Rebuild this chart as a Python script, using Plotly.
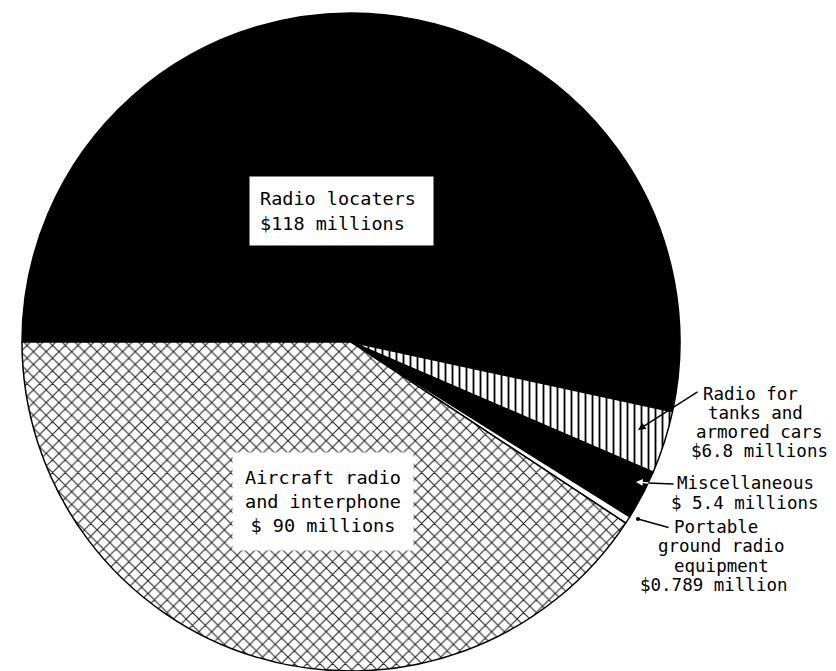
import plotly.graph_objects as go

# ---- data ----
categories = [
    "Radio locaters",
    "Radio for tanks and armored cars",
    "Miscellaneous",
    "Portable ground radio equipment",
    "Aircraft radio and interphone",
]
values = [118, 6.8, 5.4, 0.789, 90]  # millions of dollars

label_locaters = ["Radio locaters", "$118 millions"]
label_aircraft = ["Aircraft radio", "and interphone", "$ 90 millions"]
label_tanks = ["Radio for", "tanks and", "armored cars", "$6.8 millions"]
label_misc = ["Miscellaneous", "$ 5.4 millions"]
label_portable = ["Portable", "ground radio", "equipment", "$0.789 million"]

# ---- layout helpers ----
# the page body has an 8px margin, so the figure is sized to fill the rest
OFF = 8
W, H = 836 - OFF, 671 - OFF
FONT = "DejaVu Sans Mono"


def px(x):
    return (x - OFF) / W


def py(y):
    return 1 - (y - OFF) / H


cx, cy, r = 351, 342, 329

fig = go.Figure()
fig.add_trace(
    go.Pie(
        labels=categories,
        values=values,
        sort=False,
        direction="clockwise",
        rotation=270,
        textinfo="none",
        showlegend=False,
        domain=dict(x=[px(cx - r), px(cx + r)],
                    y=[max(0, py(cy + r)), min(1, py(cy - r))]),
        marker=dict(
            colors=["black", "white", "black", "white", "white"],
            line=dict(color="black", width=1.5),
            pattern=dict(
                shape=["", "|", "", "", "x"],
                fgcolor=["black", "black", "black", "black", "#222222"],
                bgcolor=["black", "white", "black", "white", "white"],
                size=[8, 7, 8, 8, 9],
                solidity=[0.3, 0.26, 0.3, 0.3, 0.22],
                fillmode="replace",
            ),
        ),
    )
)

annotations = []

# boxed labels inside the pie
annotations.append(
    dict(
        x=px(341), y=py(211), xref="paper", yref="paper",
        text="<br>".join(label_locaters), showarrow=False,
        font=dict(family=FONT, size=18.5, color="black"),
        align="left", bgcolor="white", borderpad=10,
        width=163, height=48, xanchor="center", yanchor="middle",
    )
)
annotations.append(
    dict(
        x=px(323), y=py(501), xref="paper", yref="paper",
        text="<br>".join(label_aircraft), showarrow=False,
        font=dict(family=FONT, size=18.5, color="black"),
        align="center", bgcolor="white", borderpad=10,
        width=160, height=77, xanchor="center", yanchor="middle",
    )
)

# outside labels, one line each
line_pos = {
    "tanks": [(750, 394), (755, 413), (759, 432), (759, 451)],
    "misc": [(745, 483), (745, 503)],
    "portable": [(716, 527), (721, 546), (721, 566), (714, 585)],
}
for lines, key in [(label_tanks, "tanks"), (label_misc, "misc"), (label_portable, "portable")]:
    for t, (x, y) in zip(lines, line_pos[key]):
        annotations.append(
            dict(
                x=px(x), y=py(y), xref="paper", yref="paper", text=t,
                showarrow=False, font=dict(family=FONT, size=17.5, color="black"),
                xanchor="center", yanchor="middle",
            )
        )


# leader lines / arrows
def arrow(head, tail, color="black", head_style=2, size=1.0, width=1.5):
    return dict(
        x=px(head[0]), y=py(head[1]), xref="paper", yref="paper",
        ax=tail[0] - head[0], ay=tail[1] - head[1],
        text="", showarrow=True, arrowhead=head_style, arrowsize=size,
        arrowwidth=width, arrowcolor=color,
    )


annotations.append(arrow((638, 430), (699, 391)))
annotations.append(arrow((648, 483), (675, 484), head_style=0))
annotations.append(arrow((636, 482), (650, 483), color="white", head_style=2, size=0.9))
annotations.append(arrow((638, 519), (670, 528), head_style=6, size=0.7))

fig.update_layout(
    width=W, height=H,
    margin=dict(l=0, r=0, t=0, b=0),
    paper_bgcolor="white", plot_bgcolor="white",
    annotations=annotations,
)

fig.write_html("out.html")
